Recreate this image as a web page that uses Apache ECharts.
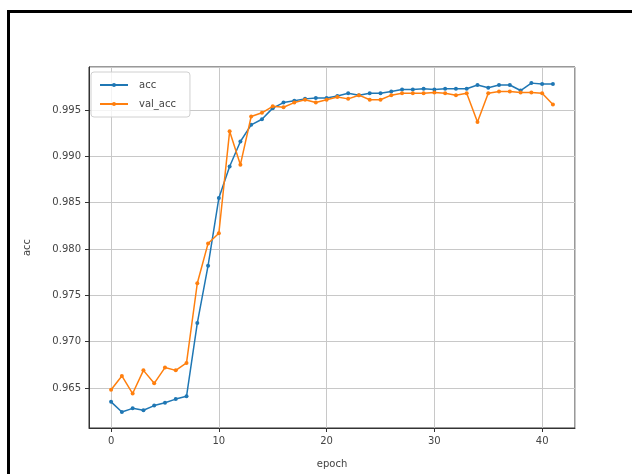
<!DOCTYPE html>
<html lang="en">
<head>
    <meta charset="UTF-8">
    <title>acc / val_acc</title>
    <script src="https://cdn.jsdelivr.net/npm/echarts@6/dist/echarts.min.js"></script>
    <style>
        html, body { margin: 0; padding: 0; background: #fff; }
    </style>
</head>
<body>
<div id="main" style="width: 632px;height:474px;"></div>
<script type="text/javascript">
    var epochs = [0, 1, 2, 3, 4, 5, 6, 7, 8, 9, 10, 11, 12, 13, 14, 15, 16, 17, 18, 19, 20,
        21, 22, 23, 24, 25, 26, 27, 28, 29, 30, 31, 32, 33, 34, 35, 36, 37, 38, 39, 40, 41];
    var acc = [0.9635, 0.9624, 0.9628, 0.9626, 0.9631, 0.9634, 0.9638, 0.9641, 0.9720, 0.9782,
        0.9855, 0.9889, 0.9916, 0.9934, 0.9940, 0.9952, 0.9958, 0.9960, 0.9962, 0.9963,
        0.9963, 0.9965, 0.9968, 0.9966, 0.9968, 0.9968, 0.9970, 0.9972, 0.9972, 0.9973,
        0.9972, 0.9973, 0.9973, 0.9973, 0.9977, 0.9974, 0.9977, 0.9977, 0.9971, 0.9979,
        0.9978, 0.9978];
    var valAcc = [0.9648, 0.9663, 0.9644, 0.9669, 0.9655, 0.9672, 0.9669, 0.9677, 0.9763, 0.9806,
        0.9817, 0.9927, 0.9891, 0.9943, 0.9947, 0.9954, 0.9953, 0.9958, 0.9961, 0.9958,
        0.9961, 0.9964, 0.9962, 0.9966, 0.9961, 0.9961, 0.9966, 0.9968, 0.9968, 0.9968,
        0.9969, 0.9968, 0.9966, 0.9968, 0.9937, 0.9968, 0.9970, 0.9970, 0.9969, 0.9969,
        0.9968, 0.9956];

    function pairs(ys) {
        var out = [];
        for (var i = 0; i < epochs.length; i++) {
            out.push([epochs[i], ys[i]]);
        }
        return out;
    }

    var textColor = '#444';
    var myChart = echarts.init(document.getElementById('main'));
    var option = {
        backgroundColor: '#fff',
        animation: false,
        graphic: [{
            type: 'rect',
            shape: {x: 8.5, y: 11.5, width: 700, height: 520},
            style: {fill: 'none', stroke: '#000', lineWidth: 3},
            silent: true
        }],
        grid: {
            left: 89, right: 57, top: 67, bottom: 46,
            show: true,
            borderColor: '#333',
            borderWidth: 1,
            backgroundColor: 'transparent'
        },
        legend: {
            orient: 'vertical',
            left: 91,
            top: 72,
            padding: [8, 14, 8, 8],
            itemGap: 9,
            itemWidth: 28,
            itemHeight: 5,
            backgroundColor: 'rgba(255,255,255,0.8)',
            borderColor: '#d0d0d0',
            borderWidth: 1,
            borderRadius: 3,
            textStyle: {color: textColor, fontFamily: 'DejaVu Sans', fontSize: 10, padding: [0, 0, 0, 6]},
            data: ['acc', 'val_acc']
        },
        xAxis: {
            type: 'value',
            min: -2.05,
            max: 43.05,
            splitNumber: 5,
            name: 'epoch',
            nameLocation: 'middle',
            nameGap: 31,
            nameTextStyle: {color: textColor, fontFamily: 'DejaVu Sans', fontSize: 10},
            axisLine: {show: true, onZero: false, lineStyle: {color: '#333'}},
            axisTick: {show: true, length: 4, lineStyle: {color: '#333'}},
            axisLabel: {
                color: textColor, fontFamily: 'DejaVu Sans', fontSize: 10, margin: 8,
                showMinLabel: false, showMaxLabel: false
            },
            splitLine: {show: true, lineStyle: {color: '#c8c8c8', width: 1}}
        },
        yAxis: {
            type: 'value',
            min: 0.96068,
            max: 0.99964,
            splitNumber: 8,
            name: 'acc',
            nameLocation: 'middle',
            nameGap: 57,
            nameRotate: 90,
            nameTextStyle: {color: textColor, fontFamily: 'DejaVu Sans', fontSize: 10},
            axisLine: {show: true, onZero: false, lineStyle: {color: '#333'}},
            axisTick: {show: true, length: 4, lineStyle: {color: '#333'}},
            axisLabel: {
                color: textColor, fontFamily: 'DejaVu Sans', fontSize: 10, margin: 8,
                showMinLabel: false, showMaxLabel: false,
                formatter: function (v) { return v.toFixed(3); }
            },
            splitLine: {show: true, lineStyle: {color: '#c8c8c8', width: 1}}
        },
        series: [
            {
                name: 'acc',
                type: 'line',
                data: pairs(acc),
                symbol: 'circle',
                symbolSize: 4,
                showSymbol: true,
                color: '#1f77b4',
                lineStyle: {width: 1.5, color: '#1f77b4'},
                itemStyle: {color: '#1f77b4'},
                z: 3
            },
            {
                name: 'val_acc',
                type: 'line',
                data: pairs(valAcc),
                symbol: 'circle',
                symbolSize: 4,
                showSymbol: true,
                color: '#ff7f0e',
                lineStyle: {width: 1.5, color: '#ff7f0e'},
                itemStyle: {color: '#ff7f0e'},
                z: 4
            }
        ]
    };
    myChart.setOption(option);
</script>

</body>
</html>
